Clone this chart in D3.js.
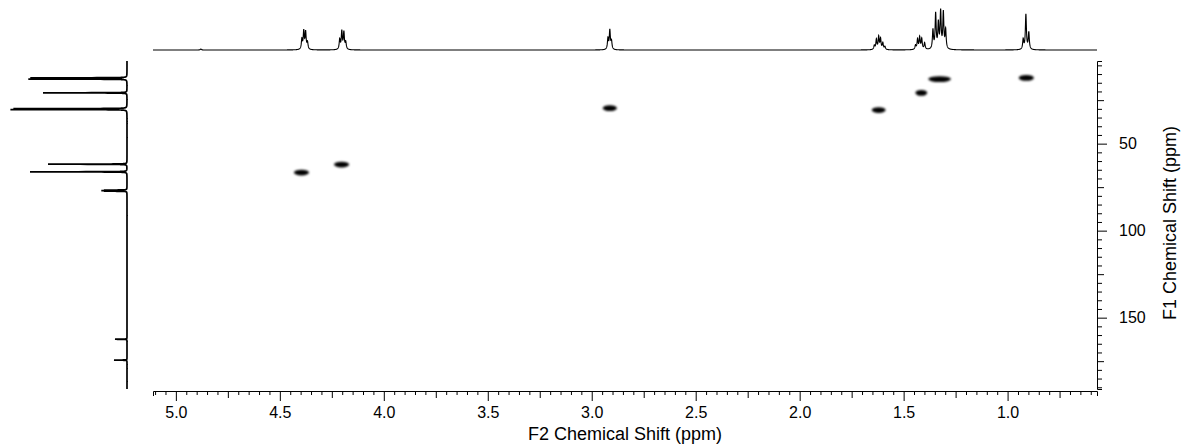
<!DOCTYPE html>
<html>
<head>
<meta charset="utf-8">
<script src="https://cdn.jsdelivr.net/npm/d3@7"></script>
<style>
  body { margin: 0; background: #fff; }
  svg { display: block; font-family: "Liberation Sans", Arial, sans-serif; }
</style>
</head>
<body>
<svg id="chart" width="1184" height="444"></svg>
<script>
// 1H projection (top trace): line positions (ppm) and heights
var h1_ppm    = [4.88,
                 4.394, 4.385, 4.376, 4.367,
                 4.212, 4.202, 4.192, 4.183,
                 2.922, 2.913, 2.905,
                 1.641, 1.631, 1.620, 1.611, 1.600, 1.590,
                 1.443, 1.433, 1.423, 1.413, 1.399,
                 1.359, 1.346, 1.333, 1.322, 1.309, 1.298,
                 0.925, 0.912, 0.898];
var h1_height = [1,
                 10, 18, 17, 7,
                 10, 18, 17, 7,
                 11, 19, 8,
                 4, 10, 12.5, 10.5, 6.5, 3,
                 4, 10, 12, 10.5, 6.5,
                 19, 35, 25, 37, 36, 19,
                 10, 35, 17];

// 13C projection (left trace)
var c13_ppm    = [12.2, 12.9, 20.8, 29.9, 30.4, 61.8, 66.2, 76.7, 77.0, 77.3, 162.4, 174.4];
var c13_height = [96, 98, 84, 112, 115, 79, 97, 22, 24, 22, 12, 13];

// HSQC cross peaks: F2 (1H) ppm, F1 (13C) ppm, width in F2 (ppm)
var cross_f2    = [4.396, 4.203, 2.913, 1.620, 1.415, 1.327, 0.910];
var cross_f1    = [66.6, 62.0, 29.6, 30.7, 20.8, 12.9, 12.2];
var cross_width = [0.078, 0.078, 0.072, 0.072, 0.062, 0.115, 0.078];

var f2_ticks = d3.range(12, 103).map(function(i){ return +(i*0.05).toFixed(2); });
var f1_ticks = d3.range(1, 39).map(function(i){ return i*5; });

var svg = d3.select("#chart");

var x = d3.scaleLinear().domain([5.11, 0.57]).range([153, 1097]);
var y = d3.scaleLinear().domain([2.5, 191]).range([61, 389]);

// scales for the projections
var topY = d3.scaleLinear().domain([0, 40]).range([50, 10]);
var leftX = d3.scaleLinear().domain([0, 120]).range([127, 7]);

function lorentz(v, pos, hw){ return 1 / (1 + Math.pow((v - pos) / hw, 2)); }

// top 1H trace
var hw1 = 0.003;
var topPts = [];
for (var v = 5.11; v >= 0.57; v -= 0.0005) {
  var s = 0;
  for (var k = 0; k < h1_ppm.length; k++) s += h1_height[k] * lorentz(v, h1_ppm[k], hw1);
  topPts.push([v, s]);
}
svg.append("path")
  .datum(topPts)
  .attr("fill", "none")
  .attr("stroke", "#000")
  .attr("stroke-width", 1.1)
  .attr("d", d3.line().x(function(d){ return x(d[0]); }).y(function(d){ return topY(d[1]); }));

// left 13C trace
var hw13 = 0.06;
var leftPts = [];
for (var w = 2.5; w <= 191; w += 0.01) {
  var s2 = 0;
  for (var m = 0; m < c13_ppm.length; m++) s2 += c13_height[m] * lorentz(w, c13_ppm[m], hw13);
  leftPts.push([w, s2]);
}
svg.append("path")
  .datum(leftPts)
  .attr("fill", "none")
  .attr("stroke", "#000")
  .attr("stroke-width", 1.7)
  .attr("d", d3.line().x(function(d){ return leftX(d[1]); }).y(function(d){ return y(d[0]); }));

// cross peaks
var defs = svg.append("defs");
defs.append("filter").attr("id", "blur")
  .attr("x", "-50%").attr("y", "-100%").attr("width", "200%").attr("height", "300%")
  .append("feGaussianBlur").attr("stdDeviation", 0.9);

var peaks = d3.range(cross_f2.length).map(function(i){
  return {f2: cross_f2[i], f1: cross_f1[i], w: cross_width[i]};
});
svg.append("g").selectAll("ellipse")
  .data(peaks)
  .enter().append("ellipse")
  .attr("cx", function(d){ return x(d.f2); })
  .attr("cy", function(d){ return y(d.f1); })
  .attr("rx", function(d){ return Math.abs(x(d.f2 + d.w/2) - x(d.f2)) - 0.5; })
  .attr("ry", 2.9)
  .attr("fill", "#050505")
  .attr("filter", "url(#blur)");

// bottom F2 axis
var xAxis = d3.axisBottom(x)
  .tickValues(f2_ticks)
  .tickSizeOuter(0)
  .tickSize(5)
  .tickPadding(11)
  .tickFormat(function(d){ return Math.round(d*100) % 50 === 0 ? d3.format(".1f")(d) : ""; });

var gx = svg.append("g").attr("transform", "translate(0,391)").call(xAxis);
gx.selectAll(".tick line").attr("y2", function(d){
  var c = Math.round(d*100);
  return c % 50 === 0 ? 10 : (c % 25 === 0 ? 7 : 4);
});
gx.selectAll("text").attr("font-size", 16).attr("fill", "#000").attr("font-family", "Liberation Sans, Arial, sans-serif");
gx.select(".domain").attr("stroke", "#000");

svg.append("text")
  .attr("x", 625).attr("y", 440)
  .attr("text-anchor", "middle")
  .attr("font-size", 18)
  .text("F2 Chemical Shift (ppm)");

// right F1 axis
var yAxis = d3.axisRight(y)
  .tickValues(f1_ticks)
  .tickSizeOuter(0)
  .tickSize(5)
  .tickPadding(17)
  .tickFormat(function(d){ return d % 50 === 0 ? d : ""; });

var gy = svg.append("g").attr("transform", "translate(1097,0)").call(yAxis);
gy.selectAll(".tick line").attr("x2", function(d){
  return d % 50 === 0 ? 10 : (d % 25 === 0 ? 7 : 5);
});
gy.selectAll("text").attr("font-size", 16).attr("fill", "#000").attr("font-family", "Liberation Sans, Arial, sans-serif");
gy.select(".domain").attr("stroke", "#000");

svg.append("text")
  .attr("transform", "translate(1176,223) rotate(-90)")
  .attr("text-anchor", "middle")
  .attr("font-size", 18)
  .text("F1 Chemical Shift (ppm)");
</script>
</body>
</html>
